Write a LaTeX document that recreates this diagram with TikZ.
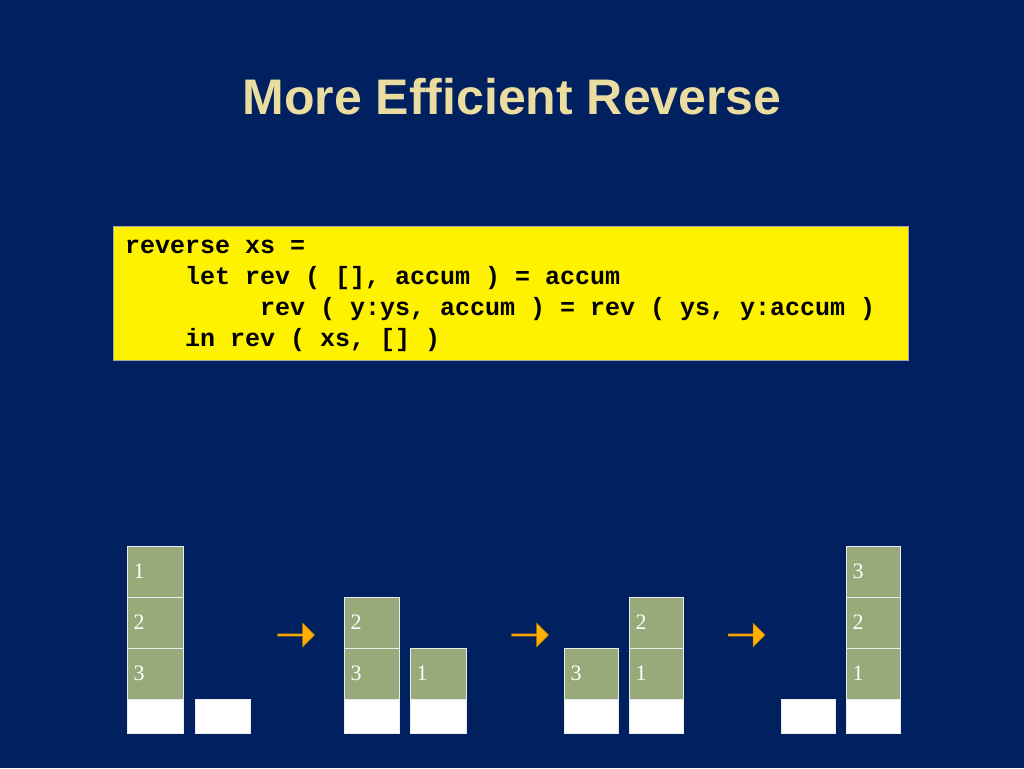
\documentclass[tikz,border=0pt]{standalone}
\usepackage{fontspec}
\setmainfont{Liberation Serif}
\setsansfont{Liberation Sans}
\setmonofont{Liberation Mono}
\usetikzlibrary{shapes.arrows}
\definecolor{bg}{RGB}{0,32,96}
\definecolor{ttl}{RGB}{235,220,160}
\definecolor{cell}{RGB}{152,170,122}
\definecolor{arr}{RGB}{255,176,0}
\begin{document}
\begin{tikzpicture}[x=1pt,y=-1pt,
  cellbox/.style={draw=white!85!gray,line width=0.8pt,fill=cell},
  emptybox/.style={draw=white!85!gray,line width=0.8pt,fill=white},
  num/.style={anchor=west,font=\fontsize{22}{22}\selectfont,text=white},
  blockarrow/.style={single arrow,draw=arr!70!black,line width=0.6pt,fill=arr,minimum width=24pt,single arrow head extend=3pt,minimum height=37pt,inner sep=0pt}]
\fill[bg] (0,0) rectangle (1024,768);
\useasboundingbox (0,0) rectangle (1024,768);
\node[font=\sffamily\bfseries\fontsize{50}{50}\selectfont,text=ttl] (title) at (512,97) {More Efficient Reverse};
\node[draw=gray!70,fill=yellow,line width=1pt,minimum width=795pt,minimum height=134pt,anchor=north west] (code) at (113,226) {};
\begin{scope}[font=\ttfamily\bfseries\fontsize{25}{25}\selectfont]
\node[anchor=base west,inner sep=0pt] (l1) at (125,253) {reverse xs =};
\node[anchor=base west,inner sep=0pt] (l2) at (125,284) {\ \ \ \ let rev ( [], accum ) = accum};
\node[anchor=base west,inner sep=0pt] (l3) at (125,315) {\ \ \ \ \ \ \ \ \ rev ( y:ys, accum ) = rev ( ys, y:accum )};
\node[anchor=base west,inner sep=0pt] (l4) at (125,346) {\ \ \ \ in rev ( xs, [] )};
\end{scope}
% cells
\newcommand{\mycell}[4]{\draw[cellbox] (#1,#2) rectangle (#3,#2+51); \node[num] at (#1+3,#2+25.5) {#4};}
\newcommand{\myempty}[2]{\draw[emptybox] (#1,699) rectangle (#2,733);}
\mycell{127}{546}{183}{1}\mycell{127}{597}{183}{2}\mycell{127}{648}{183}{3}\myempty{127}{183}
\myempty{195}{250}
\mycell{344}{597}{399}{2}\mycell{344}{648}{399}{3}\myempty{344}{399}
\mycell{410}{648}{466}{1}\myempty{410}{466}
\mycell{564}{648}{618}{3}\myempty{564}{618}
\mycell{629}{597}{683}{2}\mycell{629}{648}{683}{1}\myempty{629}{683}
\myempty{781}{835}
\mycell{846}{546}{900}{3}\mycell{846}{597}{900}{2}\mycell{846}{648}{900}{1}\myempty{846}{900}
\node[blockarrow] (a1) at (295.5,635) {};
\node[blockarrow] (a2) at (529.5,635) {};
\node[blockarrow] (a3) at (746,635) {};
\end{tikzpicture}
\end{document}
